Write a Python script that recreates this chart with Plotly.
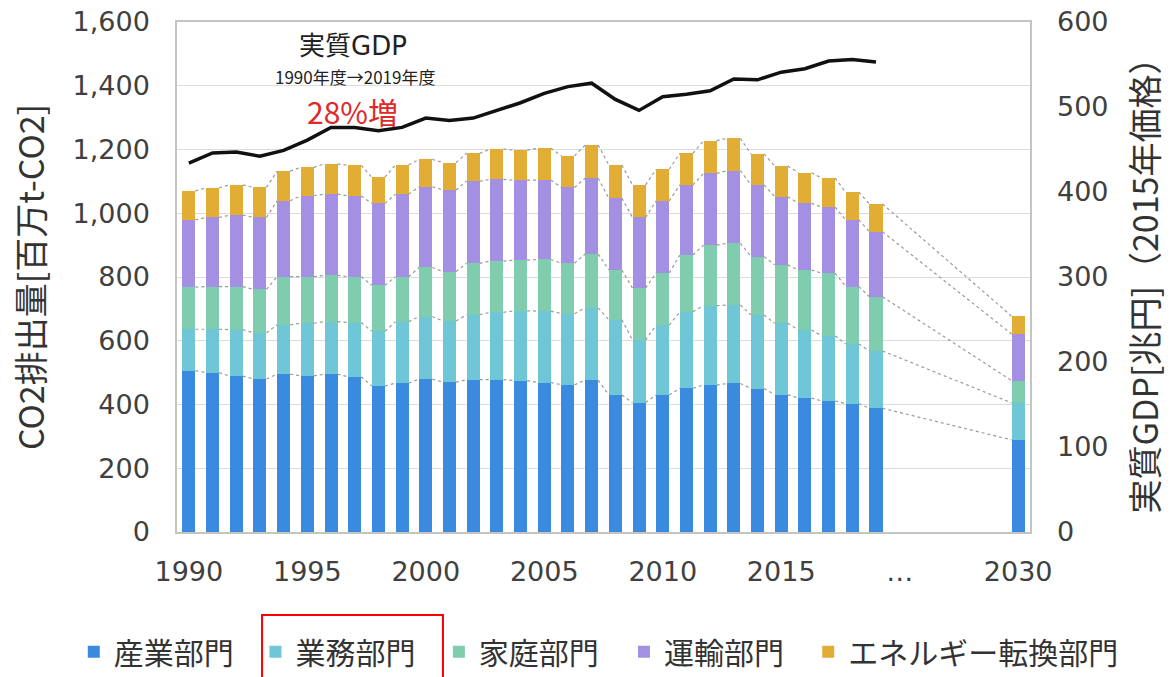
import plotly.graph_objects as go

# ---------------- data ----------------
years = list(range(1990, 2020)) + [2030]

industry = [506, 500, 489, 480, 495, 490, 495, 487, 458, 467,
            480, 470, 478, 478, 475, 469, 462, 476, 430, 406,
            430, 451, 461, 466, 450, 431, 420, 411, 403, 388, 289]
commercial = [130, 136, 146, 145, 155, 165, 165, 170, 172, 193,
              196, 192, 204, 211, 219, 224, 223, 227, 236, 196,
              219, 240, 249, 246, 231, 224, 214, 204, 187, 180, 116]
residential = [132, 134, 135, 136, 151, 146, 145, 144, 144, 141,
               154, 155, 161, 161, 159, 162, 158, 169, 156, 163,
               164, 178, 190, 194, 183, 183, 188, 197, 180, 170, 70]
transport = [211, 217, 224, 226, 238, 254, 255, 253, 257, 259,
             253, 256, 258, 256, 251, 249, 238, 238, 225, 222,
             226, 220, 225, 228, 225, 214, 209, 207, 209, 204, 146]
energy = [91, 93, 95, 94, 93, 89, 95, 96, 82, 92,
          86, 86, 87, 95, 94, 100, 99, 104, 104, 102,
          99, 99, 103, 101, 97, 96, 96, 91, 87, 87, 56]

gdp_years = list(range(1990, 2020))
gdp = [434, 446, 447, 442, 449, 461, 476, 476, 472, 476,
       487, 484, 487, 496, 505, 516, 524, 528, 509, 496,
       512, 515, 519, 533, 532, 541, 545, 554, 556, 553]

series_names = ["産業部門", "業務部門", "家庭部門", "運輸部門", "エネルギー転換部門"]
series_colors = ["#3A8BE0", "#6EC6D7", "#7FCDAE", "#A490E3", "#E2AD35"]

tick_years = [1990, 1995, 2000, 2005, 2010, 2015, 2020, 2030]
tick_labels = ["1990", "1995", "2000", "2005", "2010", "2015", "…", "2030"]

# legend entry positions (paper x) — one small legend per sector
legend_ids = ["legend", "legend2", "legend3", "legend4", "legend5"]
legend_x = [-0.121, 0.092, 0.307, 0.524, 0.740]

# ---------------- scale helpers ----------------
GAP_YEARS = 5          # compressed axis break between 2020 and 2030
BAR_W = 0.55


def pos(y):
    return y - 1990 if y <= 2020 else y - 1990 - GAP_YEARS


xs = [pos(y) for y in years]
gx = [pos(y) for y in gdp_years]

fig = go.Figure()

series = [industry, commercial, residential, transport, energy]
for name, col, vals, lg in zip(series_names, series_colors, series, legend_ids):
    fig.add_trace(go.Bar(x=xs, y=vals, name=name, width=BAR_W, legend=lg,
                         marker=dict(color=col, line=dict(width=0))))

# dotted series lines connecting the top of each segment
cum = [0] * len(years)
for vals in series:
    cum = [c + v for c, v in zip(cum, vals)]
    lx, ly = [], []
    for i in range(len(years) - 1):
        lx += [xs[i] + BAR_W / 2, xs[i + 1] - BAR_W / 2, None]
        ly += [cum[i], cum[i + 1], None]
    fig.add_trace(go.Scatter(x=lx, y=ly, mode="lines", showlegend=False,
                             hoverinfo="skip",
                             line=dict(color="#9a9a9a", width=1.2, dash="dot")))

# real GDP line
fig.add_trace(go.Scatter(x=gx, y=gdp, mode="lines", yaxis="y2", showlegend=False,
                         name="実質GDP", line=dict(color="#111111", width=3.5)))

tick_font = dict(family="DejaVu Sans, Noto Sans CJK JP", size=27, color="#404040")
title_font = dict(family="Noto Sans CJK JP", size=34, color="#333333")
legend_font = dict(family="Noto Sans CJK JP", size=30, color="#333333")

layout_legends = {}
for lg, lx in zip(legend_ids, legend_x):
    layout_legends[lg] = dict(orientation="h", x=lx, xanchor="left",
                              y=-0.235, yanchor="middle", font=legend_font,
                              bgcolor="rgba(0,0,0,0)")

fig.update_layout(
    width=1176, height=677,
    paper_bgcolor="white", plot_bgcolor="white",
    margin=dict(l=177, r=146, t=22, b=145, autoexpand=False),
    barmode="stack", bargap=0,
    font=dict(family="Noto Sans CJK JP", color="#404040"),
    xaxis=dict(range=[-0.5, 35.5], tickmode="array",
               tickvals=[pos(y) for y in tick_years], ticktext=tick_labels,
               tickfont=tick_font, showgrid=False, zeroline=False,
               showline=True, linecolor="#c4c4c4", linewidth=1.5, mirror=True,
               ticks="", ticklabelstandoff=15),
    yaxis=dict(range=[0, 1600], dtick=200, tickformat=",",
               tickfont=tick_font, gridcolor="#dcdcdc", gridwidth=1.2,
               zeroline=False, showline=True, linecolor="#c4c4c4", linewidth=1.5,
               mirror=True, ticks="", ticklabelstandoff=20,
               ticklabeloverflow="allow",
               title=dict(text="CO2排出量[百万t-CO2]", font=title_font, standoff=18)),
    yaxis2=dict(range=[0, 600], dtick=100, overlaying="y", side="right",
                tickfont=tick_font, showgrid=False, zeroline=False,
                showline=False, ticks="", ticklabelstandoff=26,
                ticklabeloverflow="allow",
                title=dict(text="実質GDP[兆円]（2015年価格）", font=title_font, standoff=26)),
    annotations=[
        dict(text="実質GDP", xref="paper", yref="paper", x=0.206, y=0.953,
             xanchor="center", yanchor="middle", showarrow=False,
             font=dict(family="DejaVu Sans, Noto Sans CJK JP", size=26, color="#222222")),
        dict(text="1990年度→2019年度", xref="paper", yref="paper", x=0.2087, y=0.893,
             xanchor="center", yanchor="middle", showarrow=False,
             font=dict(family="Noto Sans CJK JP", size=17, color="#222222")),
        dict(text="28%増", xref="paper", yref="paper", x=0.206, y=0.825,
             xanchor="center", yanchor="middle", showarrow=False,
             font=dict(family="Noto Sans CJK JP", size=30, color="#E02828")),
    ],
    shapes=[
        dict(type="rect", xref="paper", yref="paper", x0=0.0997, x1=0.3118,
             y0=-0.1627, y1=-0.30, line=dict(color="#FF0000", width=2),
             fillcolor="rgba(0,0,0,0)"),
    ],
    **layout_legends,
)

fig.write_html("out.html",
               config={"displayModeBar": False},
               post_script="document.body.style.margin='0';document.body.style.overflow='hidden';")
